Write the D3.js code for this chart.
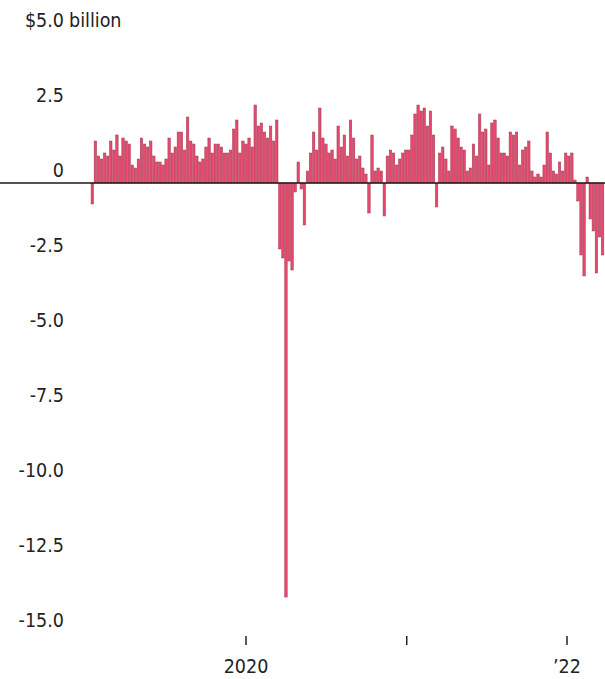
<!DOCTYPE html>
<html>
<head>
<meta charset="utf-8">
<script src="https://cdn.jsdelivr.net/npm/d3@7"></script>
<style>
    body { margin: 0; background: white; }
    text { font-family: "DejaVu Sans Condensed", "Liberation Sans Narrow", sans-serif; fill: #222; }
</style>
</head>
<body>
<div id="chart"></div>
<script>

// weekly flows, billions of dollars, first week ending Jan 16 2019
const firstWeek = new Date(2019, 0, 16)
const lastWeek = new Date(2022, 2, 23)

const flows = [
    -0.7, 1.4, 0.9, 0.8, 1.0, 0.9, 1.4, 1.1, 1.6, 0.9,
    1.5, 1.4, 1.3, 0.6, 0.5, 0.8, 1.5, 1.3, 1.2, 1.4,
    0.9, 0.7, 0.7, 0.6, 0.8, 1.5, 1.0, 1.2, 1.7, 1.7,
    1.1, 2.2, 1.4, 1.3, 0.9, 0.7, 0.8, 1.2, 1.5, 1.0,
    1.3, 1.3, 1.2, 1.0, 1.0, 1.1, 1.8, 2.1, 1.0, 1.4,
    1.3, 1.5, 1.2, 2.6, 1.9, 2.0, 1.7, 1.5, 1.9, 1.4,
    2.1, -2.2, -2.5, -13.8, -2.6, -2.9, -0.3, 0.7, -0.2, -1.4,
    0.4, 1.0, 1.7, 1.1, 2.5, 1.5, 1.3, 1.0, 1.1, 0.8,
    1.9, 1.2, 1.6, 0.9, 2.1, 1.5, 0.8, 0.9, 0.5, 0.3,
    -1.0, 1.6, 0.4, 0.5, 0.4, -1.1, 0.9, 1.1, 1.0, 0.6,
    0.8, 1.0, 1.1, 1.1, 1.6, 2.3, 2.6, 2.4, 2.5, 1.9,
    2.4, 1.6, -0.8, 1.0, 1.2, 0.8, 0.4, 1.9, 1.8, 1.5,
    1.2, 1.1, 0.4, 0.5, 1.3, 0.9, 2.3, 1.7, 1.8, 0.6,
    2.0, 2.1, 1.5, 1.0, 1.0, 0.9, 1.7, 1.6, 1.7, 0.6,
    1.1, 1.2, 1.4, 0.4, 0.2, 0.3, 0.2, 0.6, 1.7, 1.0,
    0.4, 0.3, 0.7, 0.4, 1.0, 0.9, 1.0, 0.1, -0.6, -2.4,
    -3.1, 0.2, -1.2, -1.6, -3.0, -1.8, -2.4
]

const yTicks = [5, 2.5, 0, -2.5, -5, -7.5, -10, -12.5, -15]
const yTickLabels = ["5.0", "2.5", "0", "-2.5", "-5.0", "-7.5", "-10.0", "-12.5", "-15.0"]
const xTicks = [new Date(2020, 0, 1), new Date(2021, 0, 1), new Date(2022, 0, 1)]
const xTickLabels = ["2020", "", "\u201922"]

const weeks = d3.timeWednesday.range(firstWeek, d3.timeDay.offset(lastWeek, 1))
const data = weeks.map(function(d, i) { return { date: d, value: flows[i] } })

const width = 605
const height = 679
const fontSize = "19.5px"

const svg = d3.select("#chart").append("svg")
    .attr("width", width)
    .attr("height", height)

const x = d3.scaleTime()
    .domain([new Date(2020, 0, 1), new Date(2022, 0, 1)])
    .range([246, 567])

const y = d3.scaleLinear()
    .domain([-15, 5])
    .range([633, 33])

const barWidth = 2.5

// bars
svg.append("g")
    .selectAll("rect")
    .data(data)
    .enter()
    .append("rect")
    .attr("x", d => x(d.date) - barWidth / 2)
    .attr("y", d => y(Math.max(0, d.value)))
    .attr("width", barWidth)
    .attr("height", d => Math.abs(y(d.value) - y(0)))
    .style("fill", "#e5496d")
    .style("stroke", "#a33a55")
    .style("stroke-width", 0.5)

// zero line
svg.append("line")
    .attr("x1", 0)
    .attr("x2", width)
    .attr("y1", y(0))
    .attr("y2", y(0))
    .style("stroke", "#1a1a1a")
    .style("stroke-width", 1.3)

// y labels sit just above their value
const yLabels = svg.append("g")
yTicks.forEach(function(t, i) {
    const label = yLabels.append("text")
        .attr("x", 64)
        .attr("y", y(t) - 6)
        .attr("text-anchor", "end")
        .style("font-size", fontSize)
        .text(yTickLabels[i])
    if (i == 0) {
        label.text("$" + yTickLabels[i])
        yLabels.append("text")
            .attr("x", 69)
            .attr("y", y(t) - 6)
            .style("font-size", fontSize)
            .text("billion")
    }
})

// x axis ticks
const xAxis = svg.append("g")
xAxis.selectAll("line")
    .data(xTicks)
    .enter()
    .append("line")
    .attr("x1", d => x(d))
    .attr("x2", d => x(d))
    .attr("y1", 636)
    .attr("y2", 645)
    .style("stroke", "#222")
    .style("stroke-width", 1.5)

xAxis.selectAll("text")
    .data(xTicks)
    .enter()
    .append("text")
    .attr("x", d => x(d))
    .attr("y", 673)
    .attr("text-anchor", "middle")
    .style("font-size", fontSize)
    .text((d, i) => xTickLabels[i])

</script>
</body>
</html>
